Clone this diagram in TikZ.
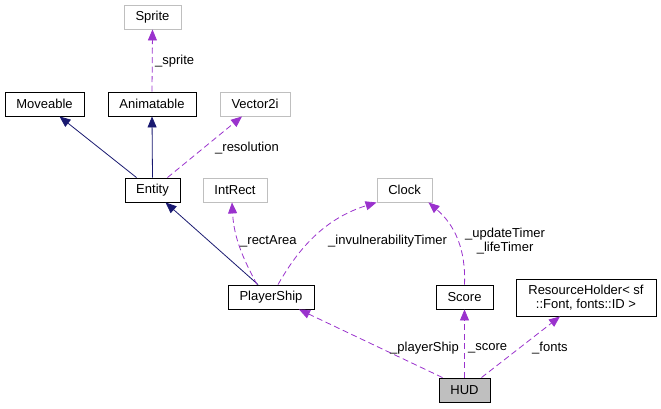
\documentclass[tikz,border=0pt]{standalone}
\usepackage{fontspec}
\setmainfont{Liberation Sans}
\usetikzlibrary{arrows.meta,calc}
\definecolor{dep}{HTML}{9A32CD}
\definecolor{inh}{HTML}{191970}
\definecolor{grayb}{HTML}{BFBFBF}
\tikzset{
  box/.style={draw=black,line width=0.9pt,fill=white,inner sep=0pt,font=\fontsize{13}{13.5}\selectfont,align=center},
  gbox/.style={box,draw=grayb},
  inhedge/.style={draw=inh,line width=0.8pt,-{Triangle[length=11pt,width=9pt]}},
  depedge/.style={draw=dep,line width=0.8pt,dash pattern=on 6pt off 3.5pt,-{Triangle[length=11pt,width=9pt]}},
  lbl/.style={inner sep=0pt,font=\fontsize{13}{14}\selectfont,align=left,anchor=west}
}
\begin{document}
\begin{tikzpicture}[x=1pt,y=-1pt]
\useasboundingbox (0,0) rectangle (661,409);
% nodes
\node[gbox,minimum width=57,minimum height=24] (sprite) at (152.5,17) {Sprite};
\node[box,minimum width=79,minimum height=24] (moveable) at (44.5,104) {Moveable};
\node[box,minimum width=88,minimum height=24] (animatable) at (152,104) {Animatable};
\node[gbox,minimum width=70,minimum height=24] (vector) at (255,104) {Vector2i};
\node[box,minimum width=55,minimum height=24] (entity) at (152.5,190) {Entity};
\node[gbox,minimum width=64,minimum height=24] (intrect) at (235,190) {IntRect};
\node[gbox,minimum width=55,minimum height=24] (clock) at (404.5,190) {Clock};
\node[box,minimum width=86,minimum height=24] (ps) at (271,297) {PlayerShip};
\node[box,minimum width=57,minimum height=24] (score) at (464.5,297) {Score};
\node[box,minimum width=140,minimum height=37] (rh) at (586,297.5) {ResourceHolder< sf\\::Font, fonts::ID >};
\node[box,fill=grayb,minimum width=51,minimum height=24] (hud) at (464.5,390) {HUD};
% edges
\draw[depedge] (animatable.north) -- (sprite.south);
\node[lbl] at (155,61) {\_sprite};
\draw[inhedge] ($(entity.north)+(-16,0)$) -- ($(moveable.south)+(15,0)$);
\draw[inhedge] (entity.north) -- (animatable.south);
\draw[depedge] ($(entity.north)+(15,0)$) -- ($(vector.south)+(-13,0)$);
\node[lbl] at (215,148) {\_resolution};
\draw[inhedge] ($(ps.north)+(-13,0)$) -- ($(entity.south)+(13,0)$);
\draw[depedge] ($(ps.north)+(-14,0)$) .. controls (245,262) and (234,240) .. ($(intrect.south)+(-3,0)$);
\node[lbl] at (240,241) {\_rectArea};
\draw[depedge] ($(ps.north)+(7,0)$) .. controls (295,255) and (320,220) .. (clock.south west);
\node[lbl] at (328,241) {\_invulnerabilityTimer};
\draw[depedge] (score.north) .. controls (466,250) and (455,225) .. ($(clock.south east)+(-4,0)$);
\node[lbl,align=center,anchor=north west] at (465,228) {\_updateTimer\\\_lifeTimer};
\draw[depedge] ($(hud.north)+(-22,0)$) -- ($(ps.south)+(28,0)$);
\node[lbl] at (390,348) {\_playerShip};
\draw[depedge] (hud.north) -- (score.south);
\node[lbl] at (468,348) {\_score};
\draw[depedge] ($(hud.north)+(17,0)$) -- ($(rh.south)+(-26,0)$);
\node[lbl] at (532,348) {\_fonts};
\end{tikzpicture}
\end{document}
